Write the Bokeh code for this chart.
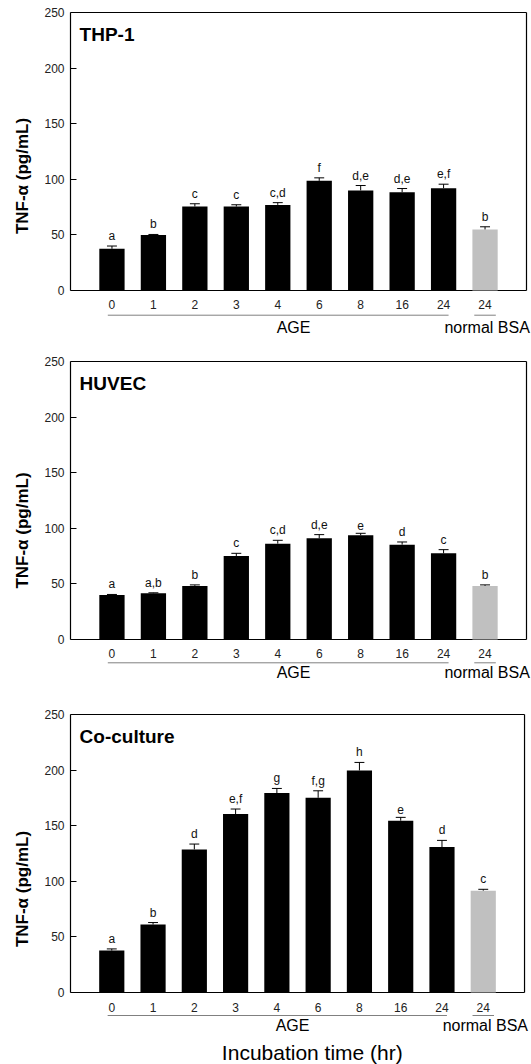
import numpy as np
from bokeh.plotting import figure
from bokeh.layouts import column
from bokeh.models import FixedTicker, Range1d, ColumnDataSource, Title
from bokeh.core.properties import value
from bokeh.embed import file_html
from bokeh.resources import INLINE

FONT = "Liberation Sans"

# ---------------- data ----------------
time_labels = ["0", "1", "2", "3", "4", "6", "8", "16", "24", "24"]
bar_colors = ["black"] * 9 + ["#c0c0c0"]
y_ticks = [0, 50, 100, 150, 200, 250]

thp1_values = [37.5, 49.8, 75.5, 75.5, 77.0, 98.6, 90.0, 88.4, 92.0, 54.9]
thp1_errors = [2.5, 0.6, 2.5, 1.6, 2.0, 2.7, 4.4, 3.3, 3.6, 2.4]
thp1_letters = ["a", "b", "c", "c", "c,d", "f", "d,e", "d,e", "e,f", "b"]

huvec_values = [40.1, 41.6, 48.2, 75.1, 86.2, 91.0, 93.7, 85.3, 77.5, 48.2]
huvec_errors = [0.4, 0.4, 0.9, 2.4, 3.0, 3.3, 1.8, 2.4, 3.3, 0.9]
huvec_letters = ["a", "a,b", "b", "c", "c,d", "d,e", "e", "d", "c", "b"]

cocul_values = [37.7, 61.1, 128.7, 160.5, 179.3, 175.1, 199.7, 154.5, 130.8, 91.6]
cocul_errors = [1.5, 1.8, 4.8, 4.5, 4.2, 6.3, 7.2, 3.0, 6.0, 1.2]
cocul_letters = ["a", "b", "d", "e,f", "g", "f,g", "h", "e", "d", "c"]

group_names = ["AGE", "normal BSA"]
group_starts = [-0.1, 8.74]
group_ends = [8.12, 9.26]
group_centers = [4.38, 9.05]

Y_MAX = 250.0
X_MIN, X_MAX = -1.0, 10.0
BOX_H_PX = 278.0          # pixel height of the 0..250 box
BOX_W_PX = 456.0          # pixel width of the -1..10 box
PX_PER_Y = BOX_H_PX / Y_MAX
PX_PER_X = BOX_W_PX / (X_MAX - X_MIN)
WIDTH = 531


def make_panel(title, values, errors, letters, height, top, left,
               tick_px, line_px, group_px, x_title=None, x_title_px=None):
    x = list(range(len(values)))
    err_top = [v + e for v, e in zip(values, errors)]
    src = ColumnDataSource(dict(
        x=x, top=values, err_top=err_top,
        cap_l=[i - 0.12 for i in x], cap_r=[i + 0.12 for i in x],
        letter=letters, color=bar_colors, tick=time_labels,
        tick_y=[-tick_px / PX_PER_Y] * len(x),
    ))
    top_b = top - 1
    frame_h = height - top_b
    y_hi = Y_MAX + 1 / PX_PER_Y
    y_lo = y_hi - frame_h / PX_PER_Y
    x_hi = X_MIN + (WIDTH - left) / PX_PER_X
    p = figure(width=WIDTH, height=height, x_range=Range1d(X_MIN, x_hi),
               y_range=Range1d(y_lo, y_hi),
               output_backend="svg", toolbar_location=None, x_axis_location=None,
               min_border_top=top_b, min_border_bottom=0,
               min_border_left=left, min_border_right=0)
    p.grid.visible = False
    p.outline_line_color = None
    p.background_fill_color = "white"
    p.border_fill_color = "white"

    # box edges (bottom, right, top); left edge is the y axis line
    p.segment(x0=[X_MIN, X_MAX, X_MIN], y0=[0, 0, Y_MAX], x1=[X_MAX, X_MAX, X_MAX],
              y1=[0, Y_MAX, Y_MAX], line_color="black", line_width=1.2)

    p.vbar(x="x", top="top", bottom=0, width=0.61, fill_color="color",
           line_color=None, source=src)
    p.segment(x0="x", y0="top", x1="x", y1="err_top", line_color="black",
              line_width=1, source=src)
    p.segment(x0="cap_l", y0="err_top", x1="cap_r", y1="err_top", line_color="black",
              line_width=1, source=src)
    p.text(x="x", y="err_top", text="letter", text_font=value(FONT),
           text_font_size="12px", text_align="center", text_baseline="bottom",
           y_offset=-3, text_color="#111111", source=src)

    # x tick labels
    p.text(x="x", y="tick_y", text="tick", text_font=value(FONT),
           text_font_size="12px", text_align="center", text_baseline="middle",
           text_color="#222222", source=src)

    # group underlines and names
    gy_line = -line_px / PX_PER_Y
    gy_text = -group_px / PX_PER_Y
    gsrc = ColumnDataSource(dict(
        x0=group_starts, x1=group_ends, xc=group_centers, name=group_names,
        yl=[gy_line] * len(group_names), yt=[gy_text] * len(group_names),
    ))
    p.segment(x0="x0", y0="yl", x1="x1", y1="yl", line_color="#808080", line_width=1,
              source=gsrc)
    p.text(x="xc", y="yt", text="name", text_font=value(FONT), text_font_size="16px",
           text_align="center", text_baseline="middle", text_color="black", source=gsrc)

    if x_title:
        p.text(x=[5.0], y=[-x_title_px / PX_PER_Y], text=[x_title], text_font=value(FONT),
               text_font_size="21px", text_align="center", text_baseline="middle",
               text_color="black")

    # panel title
    p.text(x=[-0.78], y=[230], text=[title], text_font=value(FONT), text_font_size="19px",
           text_font_style="bold", text_baseline="middle", text_color="black")

    ya = p.yaxis[0]
    ya.bounds = (0, Y_MAX)
    ya.ticker = FixedTicker(ticks=y_ticks)
    ya.major_tick_in = 6
    ya.major_tick_out = 0
    ya.major_tick_line_color = "black"
    ya.minor_tick_line_color = None
    ya.axis_line_color = "black"
    ya.axis_line_width = 1.2
    ya.major_label_text_font = FONT
    ya.major_label_text_font_size = "12px"
    ya.major_label_text_color = "#222222"
    ya.major_label_standoff = 6

    # y axis title, centred on the 0..250 box
    offset = (frame_h - BOX_H_PX) / 2.0
    p.add_layout(Title(text="TNF-α (pg/mL)", align="center", offset=offset,
                       text_font=FONT, text_font_size="17px", text_font_style="bold",
                       text_color="black", standoff=19), "left")
    return p


p1 = make_panel("THP-1", thp1_values, thp1_errors, thp1_letters, 340, 12, 70,
                tick_px=13.5, line_px=24.7, group_px=37)
p2 = make_panel("HUVEC", huvec_values, huvec_errors, huvec_letters, 360, 21, 70,
                tick_px=13.7, line_px=23.3, group_px=32.7)
p3 = make_panel("Co-culture", cocul_values, cocul_errors, cocul_letters, 364, 14, 68,
                tick_px=14.7, line_px=23, group_px=33,
                x_title="Incubation  time  (hr)", x_title_px=60)

layout = column(p1, p2, p3, spacing=0)
open("out.html", "w").write(file_html(layout, INLINE))
